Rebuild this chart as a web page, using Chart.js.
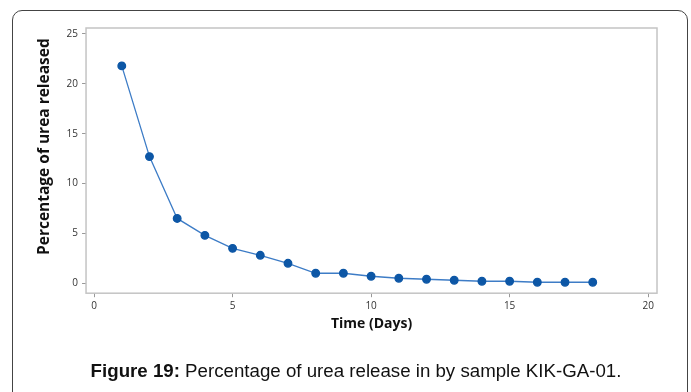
<!DOCTYPE html>
<html>
<head>
<meta charset="utf-8">
<script src="https://cdn.jsdelivr.net/npm/chart.js@4/dist/chart.umd.min.js"></script>
<style>
    html, body { margin: 0; padding: 0; background: #fff; }
    #wrap { position: relative; width: 691px; height: 392px; overflow: hidden; }
    #frame {
        position: absolute; left: 12px; top: 10px; width: 676px; height: 400px;
        border: 1px solid #444; border-radius: 10px; box-sizing: border-box;
    }
    #chart { position: absolute; left: 0; top: 0; }
    #caption {
        position: absolute; left: 0; width: 712px; top: 360px; text-align: center;
        font-family: "Liberation Sans", Arial, sans-serif; font-size: 18.7px; color: #111;
    }
</style>
</head>
<body>
<div id="wrap">
    <div id="frame"></div>
    <canvas id="chart" width="691" height="392"></canvas>
    <div id="caption"><b>Figure 19:</b> Percentage of urea release in by sample KIK-GA-01.</div>
</div>
<script>
// days and percentage of urea released
const days = [1, 2, 3, 4, 5, 6, 7, 8, 9, 10, 11, 12, 13, 14, 15, 16, 17, 18];
const released = [21.8, 12.7, 6.5, 4.8, 3.5, 2.8, 2.0, 1.0, 1.0, 0.7, 0.5, 0.4, 0.3, 0.2, 0.2, 0.1, 0.1, 0.1];
const xTicks = [0, 5, 10, 15, 20];
const yTicks = [0, 5, 10, 15, 20, 25];
const yTitle = "Percentage of urea released";

const points = days.map((d, i) => ({ x: d, y: released[i] }));
const titleFont = "bold 15.5px 'Open Sans'";

// grey box round the plot area, and the y title drawn a bit above centre
const boxPlugin = {
    id: "box",
    afterDraw(chart) {
        const a = chart.chartArea;
        const ctx = chart.ctx;
        ctx.save();
        ctx.strokeStyle = "#c4c4c4";
        ctx.lineWidth = 1.5;
        ctx.strokeRect(a.left, a.top, a.right - a.left, a.bottom - a.top);

        const ys = chart.scales.y;
        ctx.translate(ys.left + 13, (a.top + a.bottom) / 2 - 14);
        ctx.rotate(-Math.PI / 2);
        ctx.font = titleFont;
        ctx.fillStyle = "#111";
        ctx.textAlign = "center";
        ctx.textBaseline = "middle";
        ctx.fillText(yTitle, 0, 0);
        ctx.restore();
    },
};

new Chart("chart", {
    type: "line",
    data: {
        datasets: [
            {
                data: points,
                borderColor: "#3d7cc6",
                borderWidth: 1.3,
                backgroundColor: "#0d57a6",
                pointBackgroundColor: "#0d57a6",
                pointBorderColor: "#0d57a6",
                pointRadius: 3.8,
                fill: false,
                tension: 0,
            },
        ],
    },
    options: {
        responsive: false,
        animation: false,
        layout: { padding: { left: 32, top: 28, right: 34, bottom: 56 } },
        plugins: { legend: { display: false }, tooltip: { enabled: false } },
        scales: {
            x: {
                type: "linear",
                min: -0.29,
                max: 20.32,
                afterBuildTicks: (s) => { s.ticks = xTicks.map((v) => ({ value: v })); },
                ticks: { color: "#333", font: { family: "Open Sans", size: 10 }, padding: 3 },
                grid: { drawOnChartArea: false, drawTicks: true, tickLength: 4, color: "#999" },
                border: { display: false },
                title: {
                    display: true,
                    text: "Time (Days)",
                    color: "#111",
                    font: { family: "Open Sans", size: 14, weight: "bold" },
                    padding: { top: 0 },
                },
            },
            y: {
                type: "linear",
                min: -1.0,
                max: 25.6,
                afterBuildTicks: (s) => { s.ticks = yTicks.map((v) => ({ value: v })); },
                ticks: { color: "#333", font: { family: "Open Sans", size: 10 }, padding: 4 },
                grid: { drawOnChartArea: false, drawTicks: true, tickLength: 4, color: "#999" },
                border: { display: false },
                title: {
                    // space kept here, text painted by the plugin
                    display: true,
                    text: yTitle,
                    color: "rgba(0,0,0,0)",
                    font: { family: "Open Sans", size: 15.5, weight: "bold" },
                    padding: { bottom: 8 },
                },
            },
        },
    },
    plugins: [boxPlugin],
});
</script>
</body>
</html>
